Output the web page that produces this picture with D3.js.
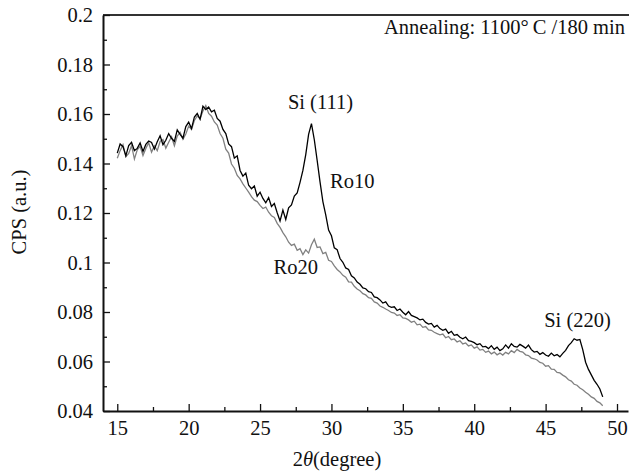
<!DOCTYPE html>
<html>
<head>
<meta charset="utf-8">
<script src="https://cdn.jsdelivr.net/npm/d3@7"></script>
<style>
  body { margin: 0; background: #fff; }
  svg text { font-family: "Liberation Serif", "DejaVu Serif", serif; }
</style>
</head>
<body>
<div id="chart"></div>
<script>
// 2theta scan grid (degree)
var thetaStart = 15, thetaStep = 0.2;

// Ro10 (black) counts per second
var ro10 = [
  0.1442, 0.1479, 0.1468, 0.1431, 0.1472, 0.1486, 0.1452, 0.1461, 0.1483, 0.1449,
  0.1477, 0.1491, 0.1485, 0.1458, 0.1488, 0.1512, 0.1476, 0.1494, 0.1521, 0.1502,
  0.1489, 0.1536, 0.1518, 0.1502, 0.1549, 0.1567, 0.1541, 0.1588, 0.1602, 0.1579,
  0.1632, 0.1618, 0.1628, 0.1609, 0.1615, 0.1582, 0.1571, 0.1538, 0.1521, 0.1479,
  0.1468, 0.1422, 0.1431, 0.1372, 0.1349, 0.1361, 0.1312, 0.1298, 0.1309, 0.1268,
  0.1284, 0.1259, 0.1241, 0.1262, 0.1226, 0.1238, 0.1201, 0.1168, 0.1212, 0.1174,
  0.1221, 0.1233, 0.1268, 0.1281, 0.1324, 0.1372, 0.1436, 0.1518, 0.1561, 0.1496,
  0.1412, 0.1326, 0.1246, 0.1192, 0.1131, 0.1108, 0.1059, 0.1052, 0.1016, 0.1001,
  0.0978, 0.0972, 0.0946, 0.0938, 0.0921, 0.0912, 0.0897, 0.0894, 0.0882, 0.0879,
  0.0861, 0.0858, 0.0849, 0.0836, 0.0841, 0.0824, 0.0819, 0.0821, 0.0806, 0.0812,
  0.0799, 0.0789, 0.0802, 0.0786, 0.0781, 0.0776, 0.0768, 0.0771, 0.0758, 0.0751,
  0.0754, 0.0739, 0.0746, 0.0733, 0.0726, 0.0731, 0.0714, 0.0722, 0.0706, 0.0709,
  0.0698, 0.0692, 0.0699, 0.0684, 0.0681, 0.0676, 0.0668, 0.0672, 0.0659, 0.0661,
  0.0652, 0.0664, 0.0649, 0.0658, 0.0644, 0.0651, 0.0667, 0.0654, 0.0672, 0.0661,
  0.0658, 0.0669, 0.0662, 0.0654, 0.0666, 0.0648, 0.0638, 0.0641, 0.0629, 0.0636,
  0.0626, 0.0621, 0.0634, 0.0623, 0.0628, 0.0619, 0.0633, 0.0645, 0.0664, 0.0676,
  0.0692, 0.0686, 0.0689, 0.0648, 0.0597, 0.0568, 0.0546, 0.0524, 0.0508, 0.0489,
  0.0457
];

// Ro20 (gray)
var ro20 = [
  0.1421, 0.1452, 0.1476, 0.1428, 0.1441, 0.1472, 0.1418, 0.1455, 0.1469, 0.1432,
  0.1461, 0.1484, 0.1446, 0.1471, 0.1452, 0.1489, 0.1497, 0.1462, 0.1486, 0.1508,
  0.1472, 0.1511, 0.1526, 0.1498, 0.1519, 0.1551, 0.1538, 0.1574, 0.1592, 0.1581,
  0.1612, 0.1634, 0.1602, 0.1591, 0.1568, 0.1555, 0.1521, 0.1502, 0.1458, 0.1442,
  0.1398, 0.1381, 0.1352, 0.1338, 0.1318, 0.1301, 0.1284, 0.1266, 0.1252, 0.1246,
  0.1231, 0.1218, 0.1224, 0.1203, 0.1189, 0.1182, 0.1158, 0.1142, 0.1121, 0.1104,
  0.1082, 0.1069, 0.1074, 0.1049, 0.1056, 0.1032, 0.1051, 0.1038, 0.1072, 0.1094,
  0.1061, 0.1063, 0.1036, 0.1041, 0.1009, 0.1004, 0.0986, 0.0972, 0.0962, 0.0948,
  0.0941, 0.0922, 0.0921, 0.0904, 0.0893, 0.0886, 0.0874, 0.0869, 0.0858, 0.0855,
  0.0841, 0.0836, 0.0824, 0.0819, 0.0812, 0.0806, 0.0798, 0.0796, 0.0786, 0.0789,
  0.0776, 0.0774, 0.0768, 0.0759, 0.0763, 0.0748, 0.0751, 0.0738, 0.0741, 0.0728,
  0.0726, 0.0718, 0.0713, 0.0708, 0.0711, 0.0696, 0.0701, 0.0688, 0.0691, 0.0679,
  0.0684, 0.0671, 0.0675, 0.0663, 0.0667, 0.0654, 0.0659, 0.0646, 0.0649, 0.0637,
  0.0642, 0.0631, 0.0638, 0.0627, 0.0634, 0.0626, 0.0637, 0.0631, 0.0644, 0.0636,
  0.0649, 0.0641, 0.0638, 0.0627, 0.0624, 0.0614, 0.0611, 0.0606, 0.0596, 0.0593,
  0.0581, 0.0583, 0.0569, 0.0568, 0.0556, 0.0554, 0.0545, 0.0538, 0.0526, 0.0521,
  0.0508, 0.0504, 0.0493, 0.0486, 0.0476, 0.0468, 0.0457, 0.0451, 0.0439, 0.0433,
  0.0421
];

var xTicks = [15, 20, 25, 30, 35, 40, 45, 50];
var xMinor = [17.5, 22.5, 27.5, 32.5, 37.5, 42.5, 47.5];
var yTicks = [0.04, 0.06, 0.08, 0.1, 0.12, 0.14, 0.16, 0.18, 0.2];
var yMinor = [0.05, 0.07, 0.09, 0.11, 0.13, 0.15, 0.17, 0.19];

// annotations: text, x (deg), y (cps)
var notes = [
  { text: "Si (111)", x: 26.95, y: 0.1622 },
  { text: "Ro10", x: 29.9, y: 0.1300 },
  { text: "Ro20", x: 25.95, y: 0.0953 },
  { text: "Si (220)", x: 44.9, y: 0.0740 }
];

var width = 629, height = 472,
    margin = { top: 15, right: 1, bottom: 61, left: 103 },
    fontSize = 20.5;

var svg = d3.select("#chart").append("svg")
  .attr("width", width)
  .attr("height", height);

var x = d3.scaleLinear()
  .domain([14, 50.77])
  .range([margin.left, width - margin.right]);

var y = d3.scaleLinear()
  .domain([0.04, 0.2])
  .range([height - margin.bottom, margin.top]);

function toPoints(vals) {
  return vals.map(function(v, i) {
    return [thetaStart + i * thetaStep, v];
  });
}

var line = d3.line()
  .x(function(d) { return x(d[0]); })
  .y(function(d) { return y(d[1]); });

// top frame line
svg.append("line")
  .attr("x1", margin.left).attr("x2", width)
  .attr("y1", margin.top).attr("y2", margin.top)
  .attr("stroke", "#333").attr("stroke-width", 2);

// minor ticks
svg.append("g")
  .attr("transform", "translate(0," + (height - margin.bottom) + ")")
  .call(d3.axisBottom(x).tickValues(xMinor).tickSize(-4).tickFormat(""))
  .call(function(g) { g.select(".domain").remove(); });

svg.append("g")
  .attr("transform", "translate(" + margin.left + ",0)")
  .call(d3.axisLeft(y).tickValues(yMinor).tickSize(-4).tickFormat(""))
  .call(function(g) { g.select(".domain").remove(); });

// major axes
svg.append("g")
  .attr("transform", "translate(0," + (height - margin.bottom) + ")")
  .call(d3.axisBottom(x).tickValues(xTicks).tickSizeInner(-7).tickSizeOuter(0).tickPadding(9));

svg.append("g")
  .attr("transform", "translate(" + margin.left + ",0)")
  .call(d3.axisLeft(y).tickValues(yTicks).tickSizeInner(-7).tickSizeOuter(0).tickPadding(10)
    .tickFormat(function(d) { return String(+d.toFixed(2)); }));

svg.selectAll(".domain").attr("stroke", "#111").attr("stroke-width", 2);
svg.selectAll(".tick line").attr("stroke", "#111").attr("stroke-width", 1.3);
svg.selectAll(".tick text")
  .attr("fill", "#111")
  .style("font-size", fontSize + "px")
  .style("font-family", "'Liberation Serif', serif");

// curves
svg.append("path")
  .datum(toPoints(ro20))
  .attr("d", line)
  .attr("fill", "none")
  .attr("stroke", "#808080")
  .attr("stroke-width", 1.3);

svg.append("path")
  .datum(toPoints(ro10))
  .attr("d", line)
  .attr("fill", "none")
  .attr("stroke", "#000")
  .attr("stroke-width", 1.3);

// annotations
svg.selectAll(".note")
  .data(notes)
  .enter().append("text")
  .attr("class", "note")
  .attr("x", function(d) { return x(d.x); })
  .attr("y", function(d) { return y(d.y); })
  .attr("fill", "#111")
  .style("font-size", fontSize + "px")
  .text(function(d) { return d.text; });

svg.append("text")
  .attr("x", width - 4)
  .attr("y", 34)
  .attr("text-anchor", "end")
  .attr("fill", "#111")
  .style("font-size", fontSize + "px")
  .text("Annealing: 1100\u00b0\u2009C /180 min");

// axis titles
svg.append("text")
  .attr("transform", "translate(26," + 212 + ") rotate(-90)")
  .attr("text-anchor", "middle")
  .attr("fill", "#111")
  .style("font-size", fontSize + "px")
  .text("CPS (a.u.)");

var xt = svg.append("text")
  .attr("x", 337)
  .attr("y", 466)
  .attr("text-anchor", "middle")
  .attr("fill", "#111")
  .style("font-size", fontSize + "px");
xt.append("tspan").text("2");
xt.append("tspan").style("font-style", "italic").text("\u03b8");
xt.append("tspan").text("(degree)");
</script>
</body>
</html>
